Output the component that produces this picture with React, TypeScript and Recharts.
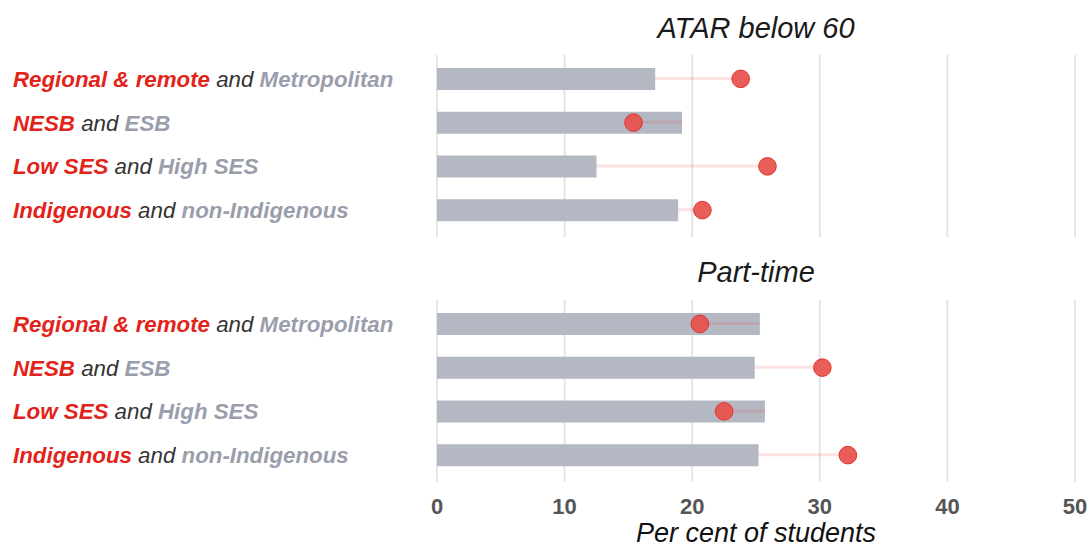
import React from 'react';
import { ComposedChart, Bar, Line, XAxis, YAxis, CartesianGrid } from 'recharts';

const equityGroups = ['Regional & remote', 'NESB', 'Low SES', 'Indigenous'];
const comparisonGroups = ['Metropolitan', 'ESB', 'High SES', 'non-Indigenous'];

const atarComparison = [17.1, 19.2, 12.5, 18.9];
const atarEquity = [23.8, 15.4, 25.9, 20.8];

const partTimeComparison = [25.3, 24.9, 25.7, 25.2];
const partTimeEquity = [20.6, 30.2, 22.5, 32.2];

const xTicks = [0, 10, 20, 30, 40, 50];

const FONT = '"Liberation Sans", Arial, Helvetica, sans-serif';

const buildRows = (comp: number[], eq: number[]) =>
  equityGroups.map((g, i) => ({
    cat: g,
    idx: i,
    comparison: comp[i],
    equity: eq[i],
    gap: [Math.min(comp[i], eq[i]), Math.max(comp[i], eq[i])],
  }));

const YTick = (props: any) => {
  const { y, payload } = props;
  const i = equityGroups.indexOf(payload.value);
  return (
    <text
      x={13}
      y={y}
      dy="0.36em"
      textAnchor="start"
      fontFamily={FONT}
      fontSize={22.3}
      fontStyle="italic"
      style={{ whiteSpace: 'pre' }}
    >
      <tspan fill="#e2231a" fontWeight="bold">{equityGroups[i]}</tspan>
      <tspan fill="#333333" fontWeight="normal">{' and '}</tspan>
      <tspan fill="#9a9eac" fontWeight="bold">{comparisonGroups[i]}</tspan>
    </text>
  );
};

const Dot = (props: any) => {
  const { cx, cy, index } = props;
  if (cx == null || cy == null) return <g key={`d${index}`} />;
  return (
    <circle
      key={`d${index}`}
      cx={cx}
      cy={cy}
      r={8.8}
      fill="#e8504b"
      fillOpacity={0.92}
      stroke="#e0322d"
      strokeWidth={1}
    />
  );
};

function Panel({ rows, showAxis, height }: { rows: any[]; showAxis: boolean; height: number }) {
  return (
    <ComposedChart
      layout="vertical"
      width={1090}
      height={height}
      data={rows}
      margin={{ top: 55, right: 15, bottom: showAxis ? 0 : 3, left: 0 }}
    >
      <CartesianGrid yAxisId="bars" horizontal={false} vertical stroke="#e5e5e5" strokeWidth={2} />
      <XAxis
        type="number"
        domain={[0, 50]}
        ticks={xTicks}
        hide={!showAxis}
        axisLine={false}
        tickLine={false}
        tickSize={0}
        tickMargin={16}
        height={65}
        tick={{ fill: '#555555', fontSize: 22, fontWeight: 'bold', fontFamily: FONT }}
      />
      <YAxis
        yAxisId="bars"
        type="category"
        dataKey="cat"
        width={437}
        axisLine={false}
        tickLine={false}
        tick={<YTick />}
        padding={{ top: 2, bottom: 5 }}
      />
      <YAxis yAxisId="gap" type="category" dataKey="cat" hide padding={{ top: 2, bottom: 5 }} />
      <Bar yAxisId="bars" dataKey="comparison" fill="#b4b8c3" barSize={22} isAnimationActive={false} />
      <Bar yAxisId="gap" dataKey="gap" fill="rgba(232,50,50,0.14)" barSize={3} isAnimationActive={false} />
      <Line
        yAxisId="gap"
        dataKey="equity"
        stroke="none"
        dot={<Dot />}
        activeDot={false}
        isAnimationActive={false}
      />
    </ComposedChart>
  );
}

const titleStyle: React.CSSProperties = {
  position: 'absolute',
  left: 437,
  width: 638,
  textAlign: 'center',
  fontFamily: FONT,
  fontStyle: 'italic',
  fontSize: 29,
  lineHeight: '30px',
  color: '#1a1a1a',
};

export default function App() {
  const atarRows = buildRows(atarComparison, atarEquity);
  const partRows = buildRows(partTimeComparison, partTimeEquity);
  return (
    <div style={{ position: 'absolute', left: 0, top: 0, width: 1090, height: 547, background: '#ffffff', overflow: 'hidden' }}>
      <div style={{ position: 'absolute', left: 0, top: 0 }}>
        <Panel rows={atarRows} showAxis={false} height={240} />
      </div>
      <div style={{ position: 'absolute', left: 0, top: 245 }}>
        <Panel rows={partRows} showAxis={true} height={302} />
      </div>
      <div style={{ ...titleStyle, top: 13 }}>ATAR below 60</div>
      <div style={{ ...titleStyle, top: 257 }}>Part-time</div>
      <div style={{ ...titleStyle, top: 521, fontSize: 27, lineHeight: '25px', color: '#111111' }}>
        Per cent of students
      </div>
    </div>
  );
}
